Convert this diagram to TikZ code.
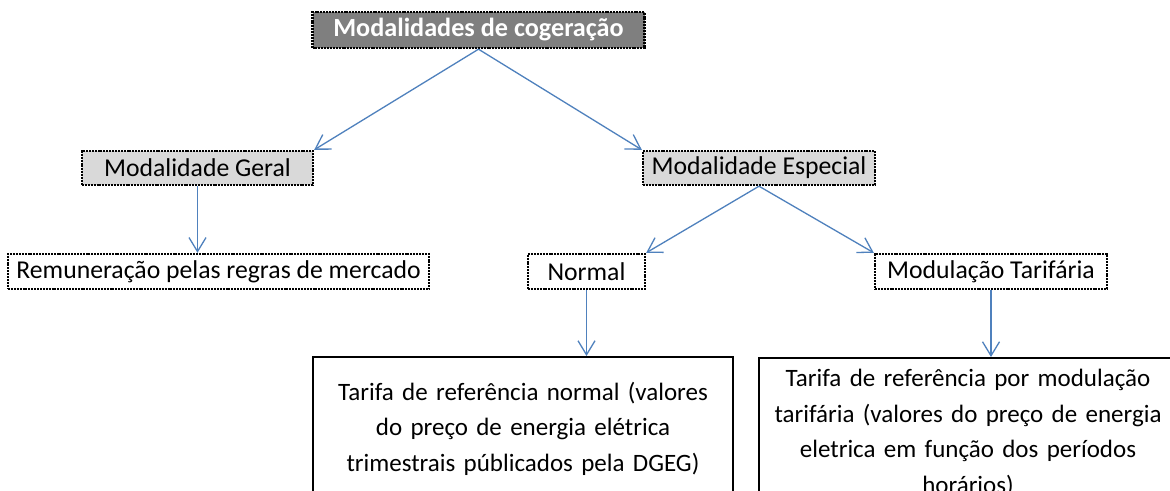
\documentclass[tikz,border=0pt]{standalone}
\usepackage{fontspec}
\setmainfont{Carlito}
\usetikzlibrary{arrows.meta}
\definecolor{arrowblue}{HTML}{4F81BD}
\definecolor{topgray}{HTML}{7F7F7F}
\definecolor{lightgray}{HTML}{D9D9D9}
\begin{document}
\begin{tikzpicture}[x=1pt,y=-1pt,
  dbox/.style={draw=black, line width=2.4pt, dash pattern=on 2pt off 0.9pt,
    inner sep=0pt, minimum height=34pt, font=\fontsize{25.7}{30}\selectfont},
  conn/.style={draw=arrowblue, line width=1.3pt, -{Straight Barb[length=14pt,width=17pt]}},
  bigbox/.style={draw=black, line width=1.8pt, align=center, anchor=north,
    font=\fontsize{25}{35.5}\selectfont, inner xsep=0pt}
]
\clip (0,0) rectangle (1170,490);
\fill[white] (0,0) rectangle (1170,490);

\node[dbox, fill=topgray, text=white, font=\fontsize{26.2}{30}\selectfont\bfseries,
  minimum width=332pt, minimum height=36pt] (top) at (478.5,30) {Modalidades de cogeração};
\node[dbox, fill=lightgray, minimum width=231pt] (geral) at (197.5,168) {Modalidade Geral};
\node[dbox, fill=lightgray, minimum width=232pt] (esp) at (759,168) {Modalidade Especial};
\node[dbox, fill=white, minimum width=421pt, minimum height=35pt] (rem) at (218.5,271.5) {Remuneração pelas regras de mercado};
\node[dbox, fill=white, minimum width=117pt, minimum height=35pt] (normal) at (586.5,271.5) {Normal};
\node[dbox, fill=white, minimum width=232pt, minimum height=35pt] (modul) at (991,271.5) {Modulação Tarifária};

\node[bigbox, text width=420pt, inner ysep=25pt] (tn) at (523,356)
  {Tarifa de referência normal (valores\\ do preço de energia elétrica\\ trimestrais públicados pela DGEG)\\[20pt]};
\node[bigbox, text width=418pt, inner ysep=11.5pt] (tm) at (968,357)
  {Tarifa de referência por modulação\\ tarifária (valores do preço de energia\\ eletrica em função dos períodos\\ horários)\\[20pt]};

\draw[conn] (top.south) -- (geral.north east);
\draw[conn] (top.south) -- (esp.north west);
\draw[conn] (geral.south) -- (geral.south |- rem.north);
\draw[conn] (esp.south) -- (normal.north east);
\draw[conn] (esp.south) -- (modul.north west);
\draw[conn] (normal.south) -- (normal.south |- tn.north);
\draw[conn] (modul.south) -- (modul.south |- tm.north);
\end{tikzpicture}
\end{document}
